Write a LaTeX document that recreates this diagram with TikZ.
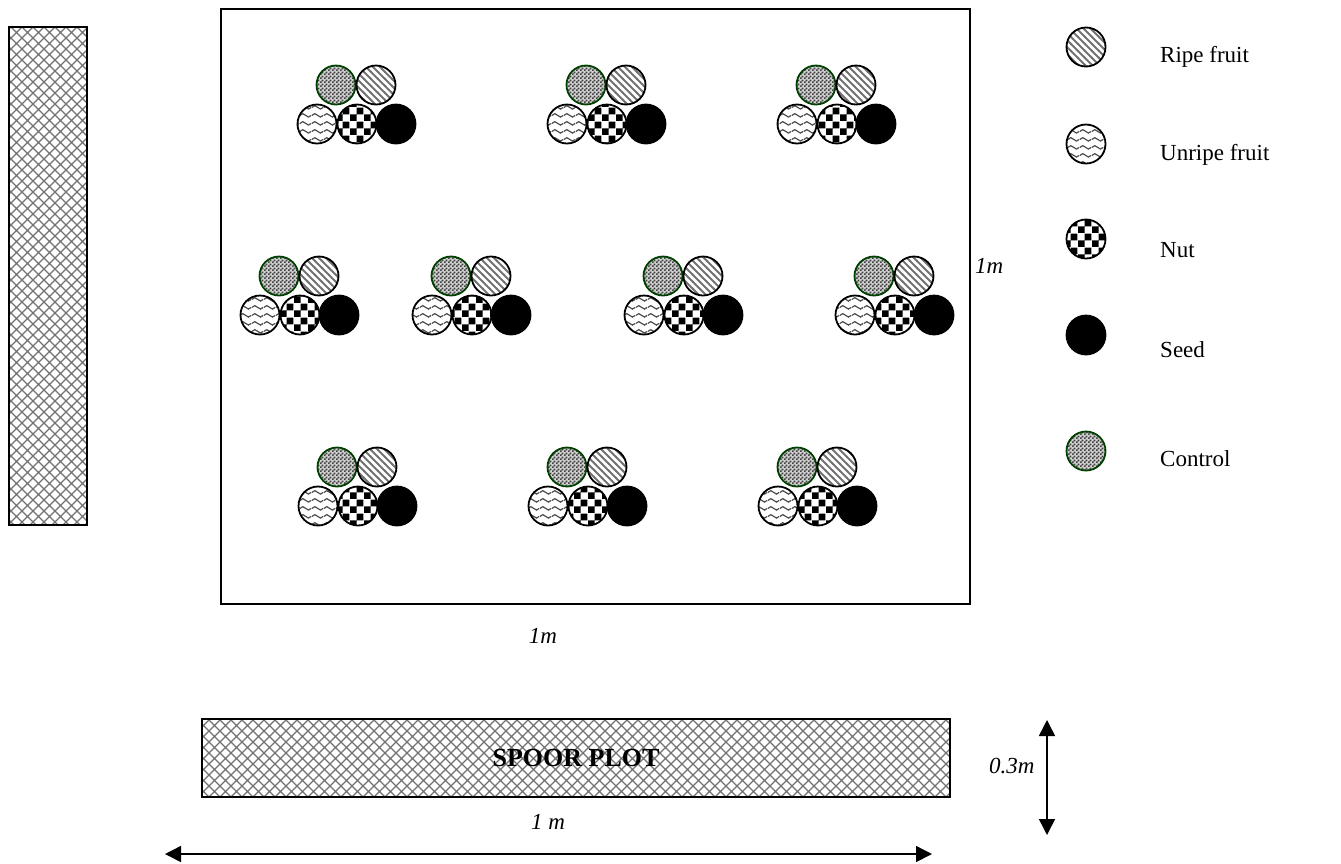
\documentclass[tikz,border=0pt]{standalone}
\usepackage{fontspec}
\setmainfont{Liberation Serif}
\usetikzlibrary{patterns,arrows.meta}

% --- fill textures -------------------------------------------------------
% fine chequer (control)
\pgfdeclarepatternformonly{finechecker}{\pgfpointorigin}{\pgfpoint{4pt}{4pt}}{\pgfpoint{4pt}{4pt}}{%
  \pgfpathrectangle{\pgfpointorigin}{\pgfpoint{2pt}{2pt}}%
  \pgfpathrectangle{\pgfpoint{2pt}{2pt}}{\pgfpoint{2pt}{2pt}}%
  \pgfusepath{fill}}
% diagonal stripes (ripe fruit)
\pgfdeclarepatternformonly{ripestripes}{\pgfpoint{-1pt}{-1pt}}{\pgfpoint{8pt}{8pt}}{\pgfpoint{7pt}{7pt}}{%
  \pgfsetlinewidth{1.8pt}%
  \pgfpathmoveto{\pgfpoint{-1pt}{8pt}}\pgfpathlineto{\pgfpoint{8pt}{-1pt}}%
  \pgfusepath{stroke}}
% wavy lines (unripe fruit)
\pgfdeclarepatternformonly{wavy}{\pgfpoint{0pt}{0pt}}{\pgfpoint{12pt}{8pt}}{\pgfpoint{12pt}{8pt}}{%
  \pgfsetlinewidth{1.3pt}%
  \pgfpathmoveto{\pgfpoint{0pt}{4pt}}%
  \pgfpathcurveto{\pgfpoint{2pt}{6.5pt}}{\pgfpoint{4pt}{6.5pt}}{\pgfpoint{6pt}{4pt}}%
  \pgfpathcurveto{\pgfpoint{8pt}{1.5pt}}{\pgfpoint{10pt}{1.5pt}}{\pgfpoint{12pt}{4pt}}%
  \pgfusepath{stroke}}
% coarse chequer (nut)
\pgfdeclarepatternformonly{bigchecker}{\pgfpointorigin}{\pgfpoint{14pt}{14pt}}{\pgfpoint{14pt}{14pt}}{%
  \pgfpathrectangle{\pgfpointorigin}{\pgfpoint{7pt}{7pt}}%
  \pgfpathrectangle{\pgfpoint{7pt}{7pt}}{\pgfpoint{7pt}{7pt}}%
  \pgfusepath{fill}}
% diamond lattice (spoor plots)
\pgfdeclarepatternformonly{diamondhatch}{\pgfpoint{-1pt}{-1pt}}{\pgfpoint{12pt}{12pt}}{\pgfpoint{11pt}{11pt}}{%
  \pgfsetlinewidth{1.2pt}%
  \pgfpathmoveto{\pgfpoint{0pt}{0pt}}\pgfpathlineto{\pgfpoint{11pt}{11pt}}%
  \pgfpathmoveto{\pgfpoint{0pt}{11pt}}\pgfpathlineto{\pgfpoint{11pt}{0pt}}%
  \pgfusepath{stroke}}

\tikzset{
  fruit/.style={circle, draw, line width=1.8pt, minimum size=39pt, inner sep=0pt},
  ctrl/.style={fruit, draw=green!25!black, preaction={fill=gray!35}, pattern=finechecker, pattern color=black!75},
  ripe/.style={fruit, preaction={fill=white}, pattern=ripestripes, pattern color=black!55},
  unripe/.style={fruit, preaction={fill=white}, pattern=wavy, pattern color=black!70},
  nut/.style={fruit, preaction={fill=white}, pattern=bigchecker, pattern color=black},
  seed/.style={fruit, fill=black},
  hatchbox/.style={draw, line width=1.8pt, preaction={fill=white}, pattern=diamondhatch, pattern color=black!55},
  lbl/.style={font=\fontsize{23}{27}\selectfont, inner sep=0pt},
  dimlbl/.style={font=\fontsize{23}{27}\selectfont\itshape, inner sep=0pt},
  dimline/.style={line width=1.5pt, {Triangle[length=16pt,width=16pt]}-{Triangle[length=16pt,width=16pt]}}
}

% one bait station: control and ripe fruit above, unripe fruit, nut and seed below
\newcommand\fruitcluster[3]{%
  \node[ctrl]   (#1-ctl)   at (#2,#3) {};
  \node[ripe]   (#1-ripe)  at ([xshift=40pt]#2,#3) {};
  \node[unripe] (#1-unr)   at ([xshift=-19pt,yshift=-39pt]#2,#3) {};
  \node[nut]    (#1-nut)   at ([xshift=21pt,yshift=-39pt]#2,#3) {};
  \node[seed]   (#1-seed)  at ([xshift=60pt,yshift=-39pt]#2,#3) {};
}

\begin{document}
\begin{tikzpicture}[x=1pt,y=-1pt]
\useasboundingbox (0,0) rectangle (1341,863);

% side spoor strip
\draw[hatchbox] (9,27) rectangle (87,525);

% 1 m x 1 m plot
\draw[line width=1.5pt] (221,9) rectangle (970,604);
\node[dimlbl, anchor=west] (sidelen) at (975,266) {1m};
\node[dimlbl] (baselen) at (543,636) {1m};

% bait stations
\fruitcluster{a}{336}{85}
\fruitcluster{b}{586}{85}
\fruitcluster{c}{816}{85}
\fruitcluster{d}{279}{276}
\fruitcluster{e}{451}{276}
\fruitcluster{f}{663}{276}
\fruitcluster{g}{874}{276}
\fruitcluster{h}{337}{467}
\fruitcluster{i}{567}{467}
\fruitcluster{j}{797}{467}

% legend
\node[ripe]   (kripe) at (1086,47)  {};
\node[unripe] (kunr)  at (1086,144) {};
\node[nut]    (knut)  at (1086,239) {};
\node[seed]   (kseed) at (1086,335) {};
\node[ctrl]   (kctl)  at (1086,451) {};
\node[lbl, anchor=base west] (tripe) at (1160,62)  {Ripe fruit};
\node[lbl, anchor=base west] (tunr)  at (1160,160) {Unripe fruit};
\node[lbl, anchor=base west] (tnut)  at (1160,257) {Nut};
\node[lbl, anchor=base west] (tseed) at (1160,357) {Seed};
\node[lbl, anchor=base west] (tctl)  at (1160,466) {Control};

% spoor plot with its dimensions
\draw[hatchbox] (202,719) rectangle (950,797);
\node[font=\fontsize{26}{30}\selectfont\bfseries, inner sep=0pt] (spoor) at (576,758) {SPOOR PLOT};
\coordinate (wl) at (165,854);
\coordinate (wr) at (932,854);
\draw[dimline] (wl) -- (wr);
\node[dimlbl] (wlen) at (548,822) {1 m};
\coordinate (ht) at (1047,720);
\coordinate (hb) at (1047,835);
\draw[dimline] (ht) -- (hb);
\node[dimlbl, anchor=west] (hlen) at (989,766) {0.3m};
\end{tikzpicture}
\end{document}
